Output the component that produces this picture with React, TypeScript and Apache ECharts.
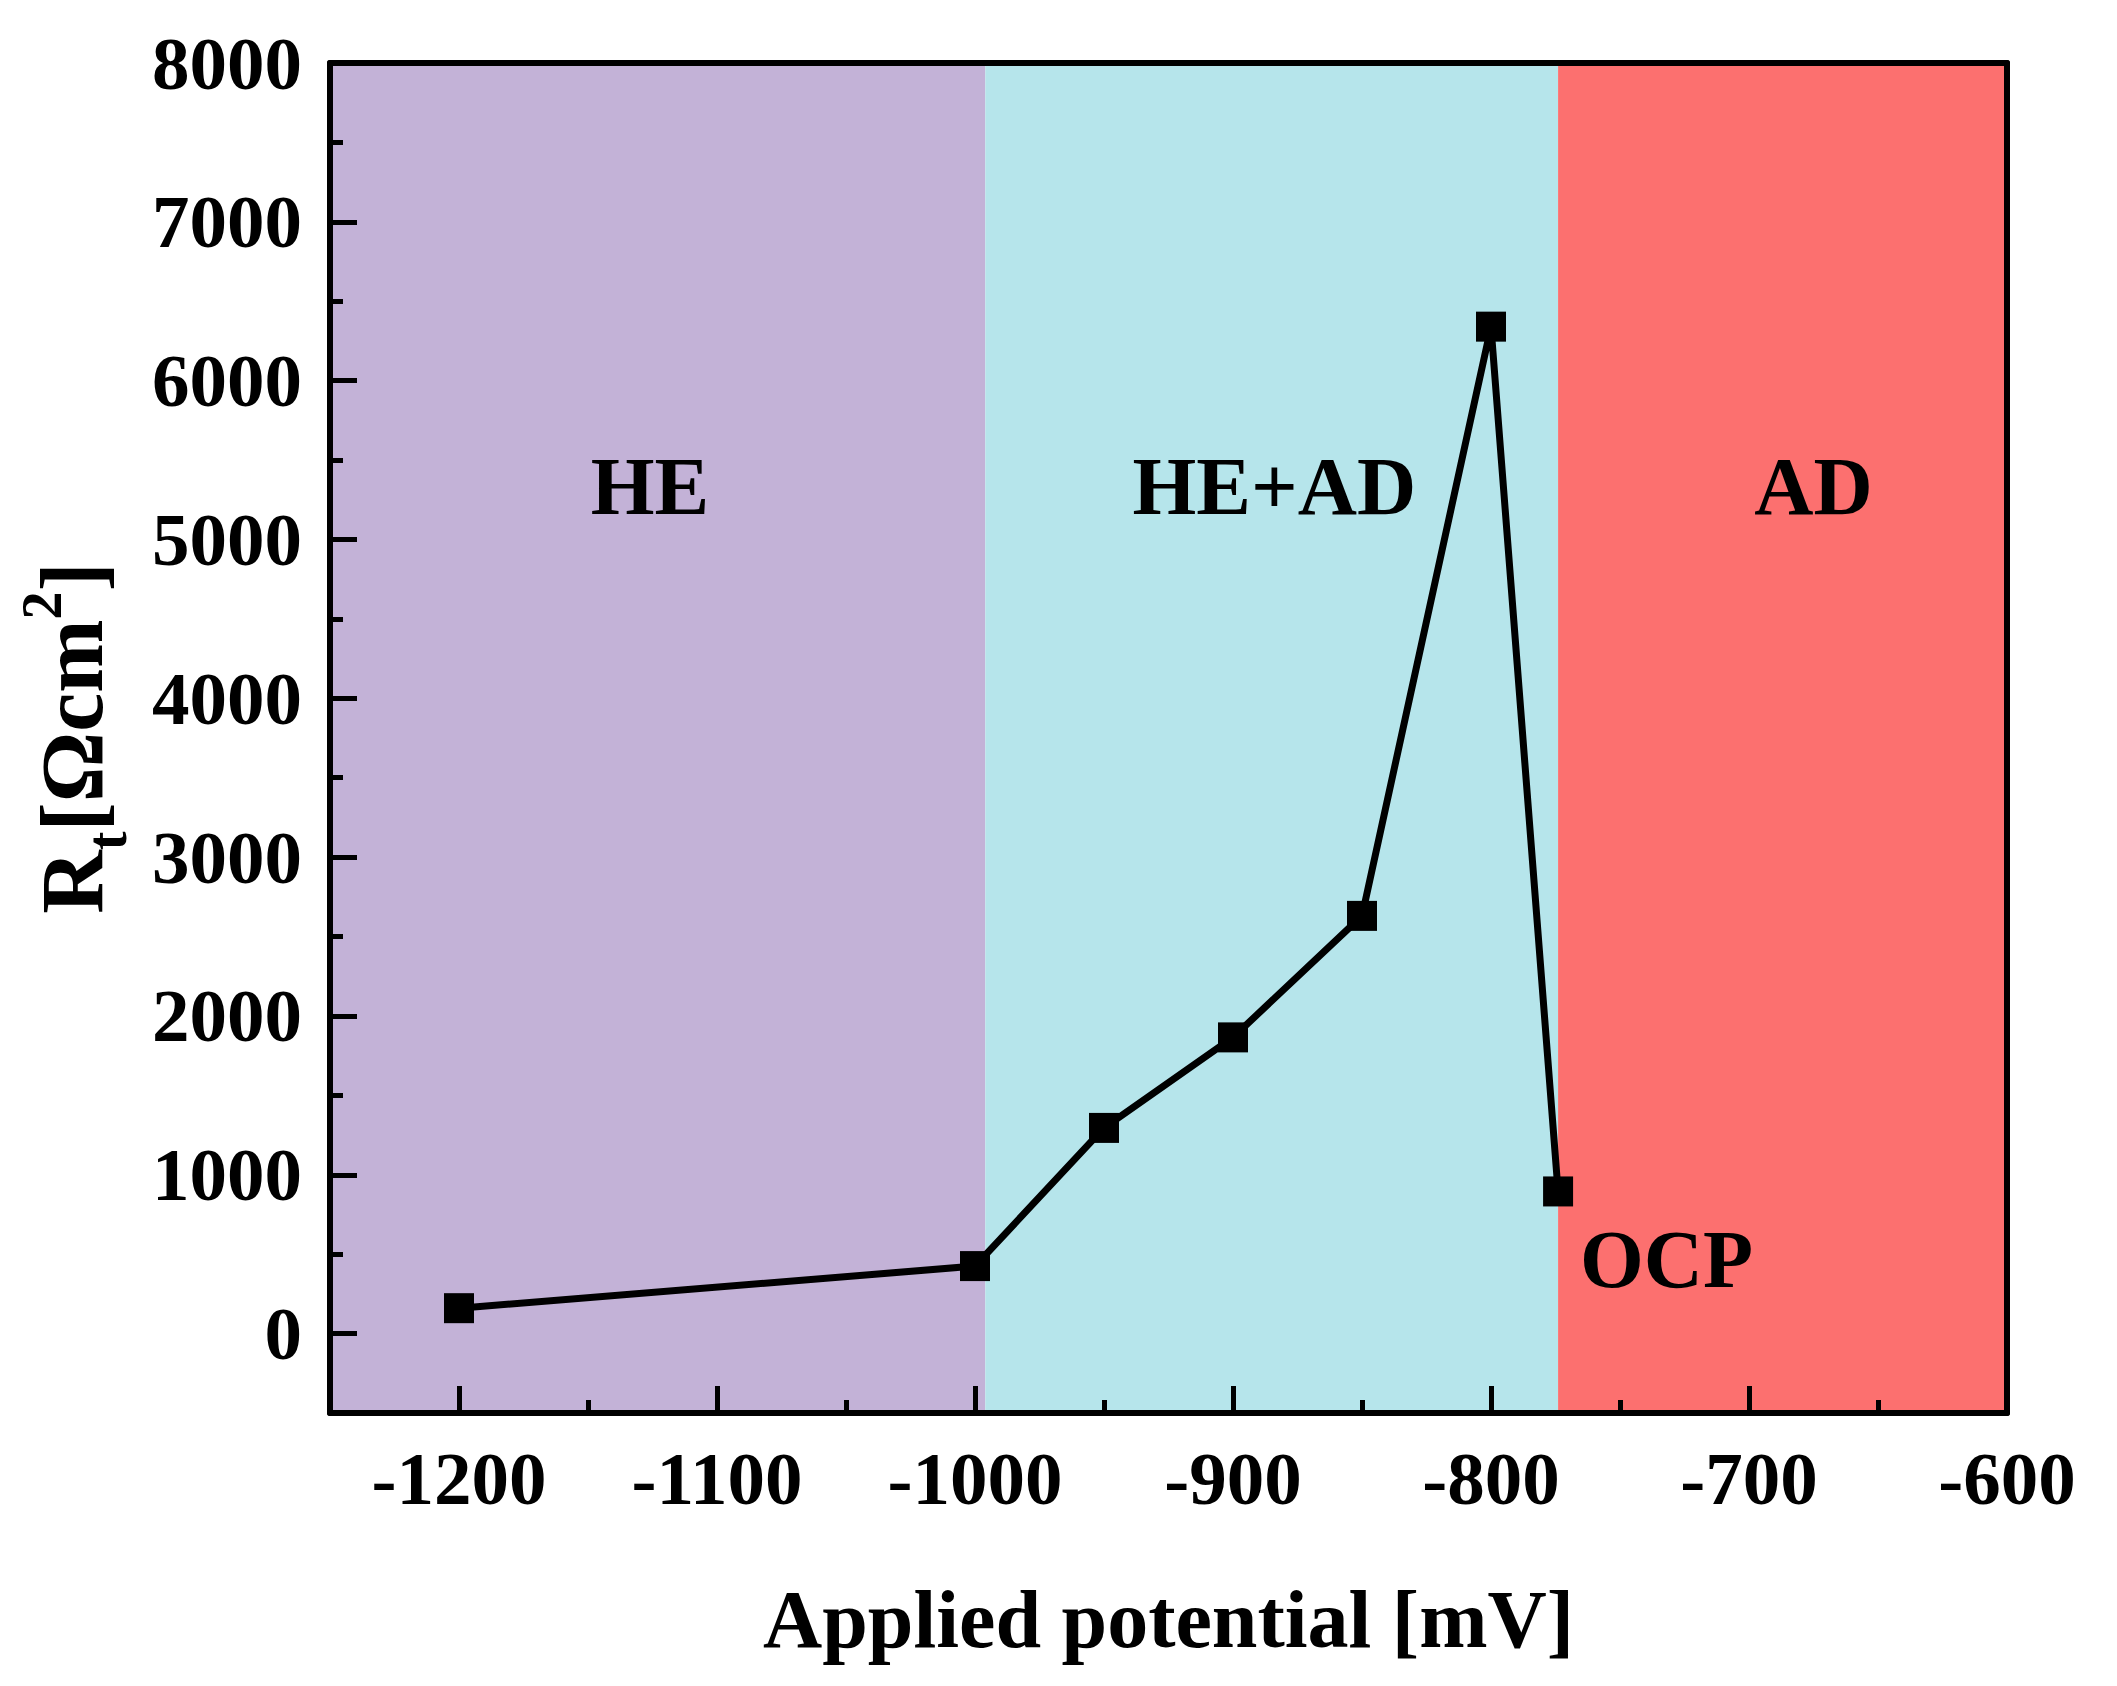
import React, { useEffect, useRef } from "react";
import * as echarts from "echarts";

// ---- data ----
const potentials = [-1200, -1000, -950, -900, -850, -800, -774];
const rtValues = [160, 425, 1295, 1865, 2630, 6340, 895];

const regionNames = ["HE", "HE+AD", "AD"];
const regionStarts = [-1250, -996, -774];
const regionEnds = [-996, -774, -600];
const regionColors = ["#C3B2D7", "#B6E5EB", "#FC706F"];
const regionLabelX = [-1126, -884, -675];
const regionLabelY = [5335, 5335, 5335];

const noteNames = ["OCP"];
const noteX = [-732];
const noteY = [468];

const xMin = -1250;
const xMax = -600;
const yMin = -500;
const yMax = 8000;
const xMajorTicks = [-1200, -1100, -1000, -900, -800, -700, -600];
const xMinorTicks = [-1150, -1050, -950, -850, -750, -650];
const yMajorTicks = [0, 1000, 2000, 3000, 4000, 5000, 6000, 7000, 8000];
const yMinorTicks = [500, 1500, 2500, 3500, 4500, 5500, 6500, 7500];

const FONT = "'Liberation Serif', 'Times New Roman', serif";

export default function App() {
  const ref = useRef<HTMLDivElement>(null);

  useEffect(() => {
    if (!ref.current) return;
    const chart = echarts.init(ref.current, undefined, { renderer: "svg" });

    const lineStyleAxis = { color: "#000", width: 6 };
    const labelStyle = {
      fontFamily: FONT,
      fontWeight: "bold" as const,
      fontSize: 75,
      color: "#000",
      formatter: (v: number) => String(v),
    };

    const baseX = { type: "value" as const, min: xMin, max: xMax, z: 10, splitLine: { show: false } };
    const baseY = { type: "value" as const, min: yMin, max: yMax, z: 10, splitLine: { show: false } };

    const option: any = {
      animation: false,
      backgroundColor: "#fff",
      grid: { left: 330, right: 110, top: 63, bottom: 273, containLabel: false },
      xAxis: [
        {
          ...baseX,
          position: "bottom",
          axisLine: { show: true, onZero: false, lineStyle: lineStyleAxis },
          axisTick: { show: true, inside: true, length: 27, lineStyle: { color: "#000", width: 5 }, customValues: xMajorTicks },
          axisLabel: { ...labelStyle, margin: 28, customValues: xMajorTicks },
          name: "Applied potential [mV]",
          nameLocation: "middle",
          nameGap: 165,
          nameTextStyle: { fontFamily: FONT, fontWeight: "bold", fontSize: 82, color: "#000" },
        },
        {
          ...baseX,
          position: "bottom",
          axisLine: { show: false, onZero: false },
          axisTick: { show: true, inside: true, length: 13, lineStyle: { color: "#000", width: 5 }, customValues: xMinorTicks },
          axisLabel: { show: false },
        },
        {
          ...baseX,
          position: "top",
          axisLine: { show: true, onZero: false, lineStyle: lineStyleAxis },
          axisTick: { show: false },
          axisLabel: { show: false },
        },
      ],
      yAxis: [
        {
          ...baseY,
          position: "left",
          axisLine: { show: true, onZero: false, lineStyle: lineStyleAxis },
          axisTick: { show: true, inside: true, length: 27, lineStyle: { color: "#000", width: 5 }, customValues: yMajorTicks },
          axisLabel: { ...labelStyle, margin: 28, customValues: yMajorTicks },
          name: "{r|R}{sub|t}{r|[Ωcm}{sup|2}{r|]}",
          nameLocation: "middle",
          nameRotate: 90,
          nameGap: 195,
          nameTextStyle: {
            fontFamily: FONT,
            fontWeight: "bold",
            fontSize: 88,
            color: "#000",
            rich: {
              r: { fontFamily: FONT, fontWeight: "bold", fontSize: 88, color: "#000", verticalAlign: "middle" },
              sub: { fontFamily: FONT, fontWeight: "bold", fontSize: 56, color: "#000", verticalAlign: "middle", padding: [70, 0, 0, 0] },
              sup: { fontFamily: FONT, fontWeight: "bold", fontSize: 56, color: "#000", verticalAlign: "middle", padding: [0, 0, 60, 0] },
            },
          },
        },
        {
          ...baseY,
          position: "left",
          axisLine: { show: false, onZero: false },
          axisTick: { show: true, inside: true, length: 13, lineStyle: { color: "#000", width: 5 }, customValues: yMinorTicks },
          axisLabel: { show: false },
        },
        {
          ...baseY,
          position: "right",
          axisLine: { show: true, onZero: false, lineStyle: lineStyleAxis },
          axisTick: { show: false },
          axisLabel: { show: false },
        },
      ],
      series: [
        {
          type: "line",
          name: "regions",
          xAxisIndex: 0,
          yAxisIndex: 0,
          data: [],
          z: 1,
          silent: true,
          markArea: {
            silent: true,
            data: regionNames.map((n, i) => [
              { xAxis: regionStarts[i], itemStyle: { color: regionColors[i], opacity: 1 } },
              { xAxis: regionEnds[i] },
            ]),
          },
        },
        {
          type: "line",
          name: "Rt",
          xAxisIndex: 0,
          yAxisIndex: 0,
          z: 5,
          data: potentials.map((x, i) => [x, rtValues[i]]),
          symbol: "rect",
          symbolSize: 30,
          itemStyle: { color: "#000" },
          lineStyle: { color: "#000", width: 7 },
        },
        {
          type: "scatter",
          name: "labels",
          xAxisIndex: 0,
          yAxisIndex: 0,
          z: 6,
          symbolSize: 1,
          itemStyle: { color: "rgba(0,0,0,0)", opacity: 1 },
          silent: true,
          data: [
            ...regionNames.map((n, i) => ({ name: n, value: [regionLabelX[i], regionLabelY[i]] })),
            ...noteNames.map((n, i) => ({ name: n, value: [noteX[i], noteY[i]] })),
          ],
          label: {
            show: true,
            position: "inside",
            formatter: "{b}",
            fontFamily: FONT,
            fontWeight: "bold",
            fontSize: 82,
            color: "#000",
            opacity: 1,
          },
        },
      ],
    };

    chart.setOption(option);
    return () => chart.dispose();
  }, []);

  return (
    <div
      ref={ref}
      style={{ position: "absolute", left: 0, top: 0, width: 2117, height: 1686, background: "#fff" }}
    />
  );
}
